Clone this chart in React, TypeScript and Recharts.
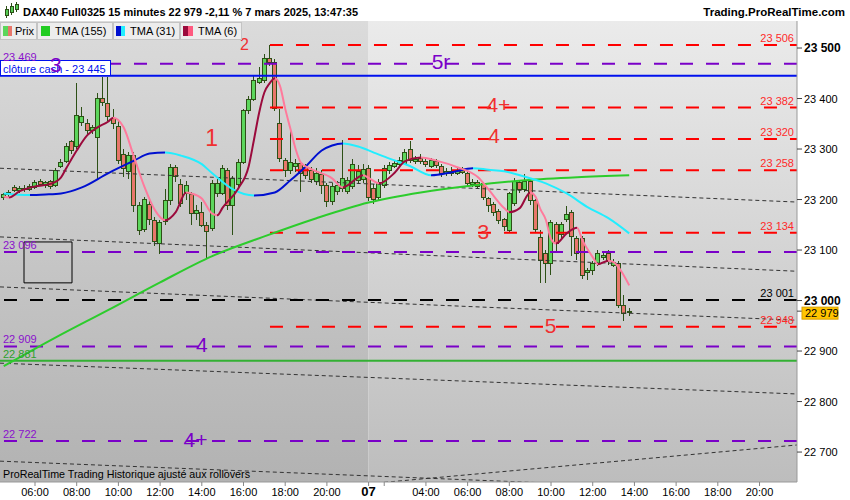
import React from 'react';
import { ComposedChart, Bar, Line, XAxis, YAxis, ReferenceLine, ReferenceArea, ReferenceDot } from 'recharts';

const FONT = '"Liberation Sans", Arial, sans-serif';

// ---- candles (15 min bars, index 0 = 04:30 on the 6th, index 70 = 01:15 on the 7th) ----
const opens = [23204,23210,23224,23217,23222,23219,23224,23236,23228,23235,
  23227,23265,23276,23314,23305,23353,23351,23337,23322,23400,
  23390,23360,23345,23290,23255,23287,23139,23140,23190,23159,
  23113,23157,23198,23264,23230,23212,23210,23172,23175,23149,
  23142,23212,23212,23258,23188,23230,23274,23376,23399,23432,
  23436,23479,23472,23350,23277,23258,23265,23271,23264,23258,
  23236,23250,23228,23196,23215,23222,23215,23225,23238,23240,
  23262,23222,23205,23228,23258,23266,23270,23271,23299,23276,
  23282,23276,23266,23276,23266,23251,23256,23252,23254,23251,
  23229,23234,23231,23202,23190,23177,23160,23139,23192,23233,
  23220,23235,23198,23125,23093,23073,23150,23130,23160,23175,
  23122,23123,23055,23060,23073,23085,23093,23070,23073,22990,
  22976];
const highs = [23213,23218,23228,23226,23228,23230,23238,23240,23236,23238,
  23262,23280,23312,23318,23430,23384,23360,23348,23410,23443,
  23443,23380,23355,23300,23295,23295,23195,23205,23200,23165,
  23160,23220,23270,23268,23240,23236,23215,23190,23195,23155,
  23238,23240,23268,23262,23246,23280,23380,23405,23445,23462,
  23488,23505,23478,23380,23282,23337,23280,23275,23270,23265,
  23262,23258,23232,23232,23236,23317,23245,23280,23268,23270,
  23268,23230,23240,23268,23275,23278,23284,23300,23316,23286,
  23290,23280,23282,23280,23270,23262,23264,23262,23264,23256,
  23240,23238,23235,23206,23195,23182,23164,23215,23242,23238,
  23250,23240,23202,23140,23100,23160,23155,23156,23188,23180,
  23128,23128,23064,23078,23100,23096,23100,23082,23078,23010,
  22985];
const lows = [23200,23206,23214,23213,23215,23216,23220,23226,23223,23220,
  23224,23262,23272,23290,23300,23345,23330,23330,23238,23386,
  23355,23340,23270,23245,23240,23175,23130,23135,23150,23108,
  23093,23150,23190,23235,23185,23200,23149,23160,23145,23084,
  23138,23205,23208,23180,23129,23225,23270,23370,23395,23428,
  23430,23465,23375,23275,23245,23250,23255,23215,23240,23232,
  23228,23210,23185,23190,23208,23215,23210,23220,23230,23232,
  23198,23192,23200,23222,23250,23262,23266,23268,23272,23270,
  23270,23264,23262,23262,23245,23246,23247,23248,23250,23226,
  23224,23220,23200,23175,23168,23152,23138,23135,23188,23212,
  23215,23190,23135,23035,23035,23050,23095,23120,23155,23088,
  23080,23043,23040,23050,23068,23080,23070,23066,22985,22960,
  22970];
const closes = [23210,23214,23217,23222,23219,23226,23234,23230,23233,23225,
  23258,23274,23305,23297,23366,23364,23337,23342,23401,23392,
  23364,23350,23277,23262,23287,23188,23188,23200,23160,23116,
  23155,23198,23264,23245,23192,23228,23172,23178,23149,23136,
  23231,23231,23261,23188,23241,23274,23376,23399,23436,23439,
  23479,23472,23380,23281,23258,23274,23271,23251,23248,23240,
  23252,23228,23196,23225,23228,23242,23238,23270,23255,23260,
  23205,23200,23234,23262,23268,23272,23278,23294,23277,23280,
  23276,23270,23277,23268,23251,23255,23252,23257,23258,23231,
  23234,23225,23205,23188,23175,23159,23146,23211,23235,23220,
  23236,23198,23141,23080,23073,23155,23112,23150,23171,23126,
  23093,23050,23060,23073,23093,23090,23077,23076,22991,22974,
  22979];

// ---- moving averages (bar index, value) ----
const tma155Idx = [0,10,20,30,40,50,60,70,80,90,100,110,120];
const tma155Val = [22870,22927,22981,23036,23088,23127,23163,23194,23214,23228,23238,23244,23248];
const tma31Idx = [0,5,8,11,15,20,25,28,31,34,38,40,44,48,52,55,58,61,63,65,68,71,74,78,82,86,90,93,96,99,104,108,112,116,120];
const tma31Val = [23212,23209,23210,23212,23224,23252,23277,23291,23293,23287,23270,23252,23220,23208,23214,23238,23266,23297,23307,23311,23305,23293,23281,23266,23248,23254,23262,23259,23256,23248,23232,23212,23185,23163,23133];
const tma6Idx = [0,1,3,6,9,11,12,14,16,18,20,21,23,25,27,29,31,33,35,36,38,40,41,42,45,47,48,49,50,51,52,53,54,55,56,57,59,63,65,69,70,72,75,77,80,83,87,91,93,96,97,99,101,102,103,104,105,106,108,110,111,113,114,116,117,118,120];
const tma6Val = [23206,23204,23216,23226,23231,23244,23262,23297,23327,23343,23354,23362,23343,23284,23225,23179,23159,23175,23214,23212,23202,23172,23169,23184,23222,23266,23318,23372,23412,23430,23440,23425,23380,23340,23300,23273,23260,23242,23224,23248,23243,23232,23253,23276,23283,23277,23264,23244,23220,23183,23175,23183,23214,23206,23180,23160,23122,23113,23133,23144,23120,23086,23072,23079,23076,23065,23030];

// ---- axis ticks ----
const tickIdx = [6,14,22,30,38,46,54,62,70,73,81,89,97,105,113,121,129,137,145];
const tickLabels = ['06:00','08:00','10:00','12:00','14:00','16:00','18:00','20:00','07','','04:00','06:00','08:00','10:00','12:00','14:00','16:00','18:00','20:00'];
const priceTicks = [22700,22800,22900,23000,23100,23200,23300,23400,23500];
const boldTicks = [23000,23500];
const lastPrice = 22979;

// ---- drawn levels ----
const redLevels = [23506,23382,23320,23258,23134,22948];
const redStart = 51.08;
const purpleLevels = [23469,23096,22909,22722];
const cashLevel = 23445;
const greenLevel = 22881;
const blackLevel = 23001;
// trend lines: [x1, y1, x2, y2] (bar index, price)
const trendLines = [
  [-0.715,23262,152.19,23195],
  [-0.715,23126,152.19,23058],
  [-0.715,23027,152.19,22961],
  [-0.715,22876,152.19,22815],
  [-0.715,22682,152.19,22619],
  [72.95,22640,152.19,22714],
];
const boxRect = [3.89,23035,13.1,23116];
// wave labels
const waveText = ['2','1','3','5r','4+','4','3','5','4','4+'];
const waveX = [46.2,39.9,10.0,83.9,94.9,94.1,92.0,104.9,38.0,36.8];
const waveY = [23507,23323,23467,23473,23388,23326,23136,22950,22912,22724];
const wavePurple = [false,false,true,true,false,false,false,false,true,true];
const waveSize = [16,23,21,21,21,21,21,21,21,21];

const X_MIN = -0.715, X_MAX = 152.19;
const Y_MIN = 22640.7, Y_MAX = 23553.5;

const RED = '#ff0000';
const RED_TXT = '#f03030';
const PURPLE = '#7a00c8';
const GREEN_C = '#5cd65c';
const RED_C = '#e8776b';
const WICK = '#2d5016';
const BLUE = '#0010ee';

const fmt = (n: number) => `${Math.floor(n / 1000)} ${String(n % 1000).padStart(3, '0')}`;

function dirStops(idx: number[], val: number[], up: string, down: string) {
  const a = idx[0], b = idx[idx.length - 1];
  const out: { off: number; col: string }[] = [];
  for (let k = 0; k < idx.length - 1; k++) {
    const col = val[k + 1] >= val[k] ? up : down;
    out.push({ off: (idx[k] - a) / (b - a), col });
    out.push({ off: (idx[k + 1] - a) / (b - a), col });
  }
  return out;
}

const Candle = (props: any) => {
  const { x, y, width, height, payload } = props;
  if (!payload || x == null || y == null) return null;
  const { o, h, l, c } = payload;
  const top = Math.min(y, y + height);
  const hp = Math.abs(height);
  const span = h - l;
  const py = (v: number) => (span > 0 ? top + ((h - v) / span) * hp : top);
  const cx = Math.round(x + width / 2);
  const up = c >= o;
  const bt = py(Math.max(o, c));
  const bb = py(Math.min(o, c));
  return (
    <g shapeRendering="crispEdges">
      <line x1={cx - 0.5} x2={cx - 0.5} y1={top} y2={top + hp} stroke={WICK} strokeWidth={1} />
      <rect x={cx - 2.5} y={bt} width={4} height={Math.max(bb - bt, 1)} fill={up ? GREEN_C : RED_C} stroke={WICK} strokeWidth={1} />
    </g>
  );
};

const CashLabel = (p: any) => {
  const vb = p.viewBox || { x: 0, y: 75 };
  const x0 = vb.x ?? 0;
  const y0 = vb.y ?? 75;
  return (
    <g>
      <rect x={x0 + 0.5} y={y0 - 15.5} width={110} height={15} fill="#ffffff" stroke={BLUE} strokeWidth={1} shapeRendering="crispEdges" />
      <text x={x0 + 3} y={y0 - 3} fontFamily={FONT} fontSize={11} fill={BLUE}>{`clôture cash -  ${fmt(cashLevel)}`}</text>
    </g>
  );
};

const XTick = (p: any) => {
  const k = tickIdx.indexOf(p.payload.value);
  const lab = k >= 0 ? tickLabels[k] : '';
  const isDay = lab === '07';
  return (
    <text x={p.x} y={p.y + 8} textAnchor="middle" fontFamily={FONT} fontSize={isDay ? 13 : 11} fontWeight={isDay ? 'bold' : 'normal'} fill="#000">{lab}</text>
  );
};

const YTick = (p: any) => {
  const v = p.payload.value;
  if (v === lastPrice) {
    return (
      <g>
        <rect x={p.x - 2} y={p.y - 4} width={36} height={12} fill="#ffc400" stroke="#d9a000" strokeWidth={1} />
        <text x={p.x + 1} y={p.y + 6} fontFamily={FONT} fontSize={11} fill="#000">{fmt(v)}</text>
      </g>
    );
  }
  const b = boldTicks.includes(v);
  return (
    <text x={p.x} y={p.y + 4} fontFamily={FONT} fontSize={b ? 12 : 11} fontWeight={b ? 'bold' : 'normal'} fill="#000">{fmt(v)}</text>
  );
};

export default function App() {
  const rows: any[] = opens.map((o, i) => ({
    i, o, h: highs[i], l: lows[i], c: closes[i], range: [lows[i], highs[i]],
    tma155: null, tma31: null, tma6: null,
  }));
  tma155Idx.forEach((ix, k) => { rows[ix].tma155 = tma155Val[k]; });
  tma31Idx.forEach((ix, k) => { rows[ix].tma31 = tma31Val[k]; });
  tma6Idx.forEach((ix, k) => { rows[ix].tma6 = tma6Val[k]; });

  const s31 = dirStops(tma31Idx, tma31Val, '#0010d0', '#22eeff');
  const s6 = dirStops(tma6Idx, tma6Val, '#9b0a3c', '#ff7a9c');

  return (
    <div style={{ position: 'absolute', left: 0, top: 0, width: 850, height: 500, background: '#fff', overflow: 'hidden' }}>
      <svg width={0} height={0} style={{ position: 'absolute' }}>
        <defs>
          <linearGradient id="bgL" x1="0" y1="0" x2="0" y2="1">
            <stop offset="0" stopColor="#dbdbdb" />
            <stop offset="1" stopColor="#b2b2b2" />
          </linearGradient>
          <linearGradient id="bgR" x1="0" y1="0" x2="0" y2="1">
            <stop offset="0" stopColor="#ebebeb" />
            <stop offset="1" stopColor="#bdbdbd" />
          </linearGradient>
          <linearGradient id="g31" x1="0" y1="0" x2="1" y2="0">
            {s31.map((s, k) => <stop key={k} offset={s.off} stopColor={s.col} />)}
          </linearGradient>
          <linearGradient id="g6" x1="0" y1="0" x2="1" y2="0">
            {s6.map((s, k) => <stop key={k} offset={s.off} stopColor={s.col} />)}
          </linearGradient>
        </defs>
      </svg>
      <div style={{ position: 'absolute', left: 0, top: 0 }}>
        <ComposedChart width={850} height={500} data={rows} margin={{ top: 21, right: 0, bottom: 0, left: 0 }}>
          <XAxis dataKey="i" type="number" domain={[X_MIN, X_MAX]} allowDataOverflow ticks={tickIdx} tick={<XTick />} tickSize={4} tickMargin={2} height={18} axisLine={{ stroke: '#999' }} tickLine={{ stroke: '#888' }} interval={0} />
          <YAxis orientation="right" type="number" domain={[Y_MIN, Y_MAX]} allowDataOverflow ticks={[...priceTicks, lastPrice]} tick={<YTick />} tickSize={5} tickMargin={2} width={53} axisLine={{ stroke: '#999' }} tickLine={{ stroke: '#444' }} interval={0} />
          <ReferenceArea x1={X_MIN} x2={70} y1={Y_MIN} y2={Y_MAX} fill="url(#bgL)" fillOpacity={1} stroke="none" />
          <ReferenceArea x1={70} x2={X_MAX} y1={Y_MIN} y2={Y_MAX} fill="url(#bgR)" fillOpacity={1} stroke="none" />
          <ReferenceArea x1={boxRect[0]} x2={boxRect[2]} y1={boxRect[1]} y2={boxRect[3]} fill="none" fillOpacity={0} stroke="#000" strokeWidth={1} />
          {trendLines.map((t, k) => (
            <ReferenceLine key={'t' + k} segment={[{ x: t[0], y: t[1] }, { x: t[2], y: t[3] }]} stroke="#333" strokeWidth={1} strokeDasharray="4 3" ifOverflow="hidden" />
          ))}
          <Bar dataKey="range" barSize={4} shape={<Candle />} isAnimationActive={false} />
          {purpleLevels.map((v) => (
            <ReferenceLine key={'p' + v} y={v} stroke={PURPLE} strokeWidth={2} strokeDasharray="13 13"
              label={{ value: fmt(v), position: 'insideBottomLeft', offset: 3, fill: '#8a10cc', fontSize: 11, fontFamily: FONT }} />
          ))}
          {redLevels.map((v) => (
            <ReferenceLine key={'r' + v} segment={[{ x: redStart, y: v }, { x: X_MAX, y: v }]} stroke={RED} strokeWidth={2} strokeDasharray="13 13"
              label={{ value: fmt(v), position: 'insideBottomRight', offset: 3, fill: '#ff2a2a', fontSize: 11, fontFamily: FONT }} />
          ))}
          <ReferenceLine y={blackLevel} stroke="#000" strokeWidth={2} strokeDasharray="13 13"
            label={{ value: fmt(blackLevel), position: 'insideBottomRight', offset: 3, fill: '#000', fontSize: 11, fontFamily: FONT }} />
          <ReferenceLine y={greenLevel} stroke="#33b033" strokeWidth={2}
            label={{ value: fmt(greenLevel), position: 'insideBottomLeft', offset: 3, fill: '#2ea02e', fontSize: 11, fontFamily: FONT }} />
          <ReferenceLine y={cashLevel} stroke={BLUE} strokeWidth={2} label={{ content: (p: any) => <CashLabel {...p} /> }} />
          <Line dataKey="tma155" type="monotone" stroke="#2ccc2c" strokeWidth={2} dot={false} connectNulls isAnimationActive={false} />
          <Line dataKey="tma31" type="monotone" stroke="url(#g31)" strokeWidth={2} dot={false} connectNulls isAnimationActive={false} />
          <Line dataKey="tma6" type="monotone" stroke="url(#g6)" strokeWidth={2} dot={false} connectNulls isAnimationActive={false} />
          {waveText.map((t, k) => (
            <ReferenceDot key={'w' + k} x={waveX[k]} y={waveY[k]} r={1} fill="none" stroke="none"
              label={{ value: t, position: 'center', fill: wavePurple[k] ? PURPLE : RED_TXT, fontSize: waveSize[k], fontFamily: FONT }} />
          ))}
        </ComposedChart>
      </div>
      <svg width={850} height={500} style={{ position: 'absolute', left: 0, top: 0, pointerEvents: 'none' }}>
        <g shapeRendering="crispEdges">
          <line x1={6.5} x2={6.5} y1={6} y2={18} stroke="#2d5016" />
          <rect x={5} y={9} width={3} height={6} fill="#55cc55" stroke="#2d5016" />
          <line x1={11.5} x2={11.5} y1={3} y2={15} stroke="#2d5016" />
          <rect x={10} y={6} width={3} height={6} fill="#55cc55" stroke="#2d5016" />
          <line x1={16.5} x2={16.5} y1={2} y2={12} stroke="#2d5016" />
          <rect x={15} y={4} width={3} height={5} fill="#55cc55" stroke="#2d5016" />
        </g>
        <text x={23} y={16} fontFamily={FONT} fontSize={11.5} fontWeight="bold" textLength={335} lengthAdjust="spacingAndGlyphs">DAX40 Full0325 15 minutes 22 979 -2,11 % 7 mars 2025, 13:47:35</text>
        <text x={845} y={16} fontFamily={FONT} fontSize={11.5} fontWeight="bold" textAnchor="end">Trading.ProRealTime.com</text>
        <g shapeRendering="crispEdges">
          <rect x={0.5} y={22.5} width={36} height={17} fill="#ededed" stroke="#c4c4c4" />
          <rect x={37.5} y={22.5} width={75} height={17} fill="#ededed" stroke="#c4c4c4" />
          <rect x={113.5} y={22.5} width={66} height={17} fill="#ededed" stroke="#c4c4c4" />
          <rect x={180.5} y={22.5} width={61} height={17} fill="#ededed" stroke="#c4c4c4" />
          <rect x={3} y={26} width={5} height={10} fill="#5cd65c" />
          <rect x={8} y={26} width={4} height={10} fill="#e8776b" />
          <rect x={41} y={26} width={9} height={10} fill="#22cc22" />
          <rect x={116} y={26} width={5} height={10} fill="#0010d0" />
          <rect x={121} y={26} width={4} height={10} fill="#22eeff" />
          <rect x={183} y={26} width={5} height={10} fill="#9b0a3c" />
          <rect x={188} y={26} width={5} height={10} fill="#ff5a80" />
        </g>
        <text x={15} y={35} fontFamily={FONT} fontSize={11}>Prix</text>
        <text x={55} y={35} fontFamily={FONT} fontSize={11}>TMA (155)</text>
        <text x={130} y={35} fontFamily={FONT} fontSize={11}>TMA (31)</text>
        <text x={198} y={35} fontFamily={FONT} fontSize={11}>TMA (6)</text>
        <text x={3} y={478} fontFamily={FONT} fontSize={11} textLength={247} lengthAdjust="spacingAndGlyphs">ProRealTime Trading  Historique ajusté aux rollovers</text>
      </svg>
    </div>
  );
}
